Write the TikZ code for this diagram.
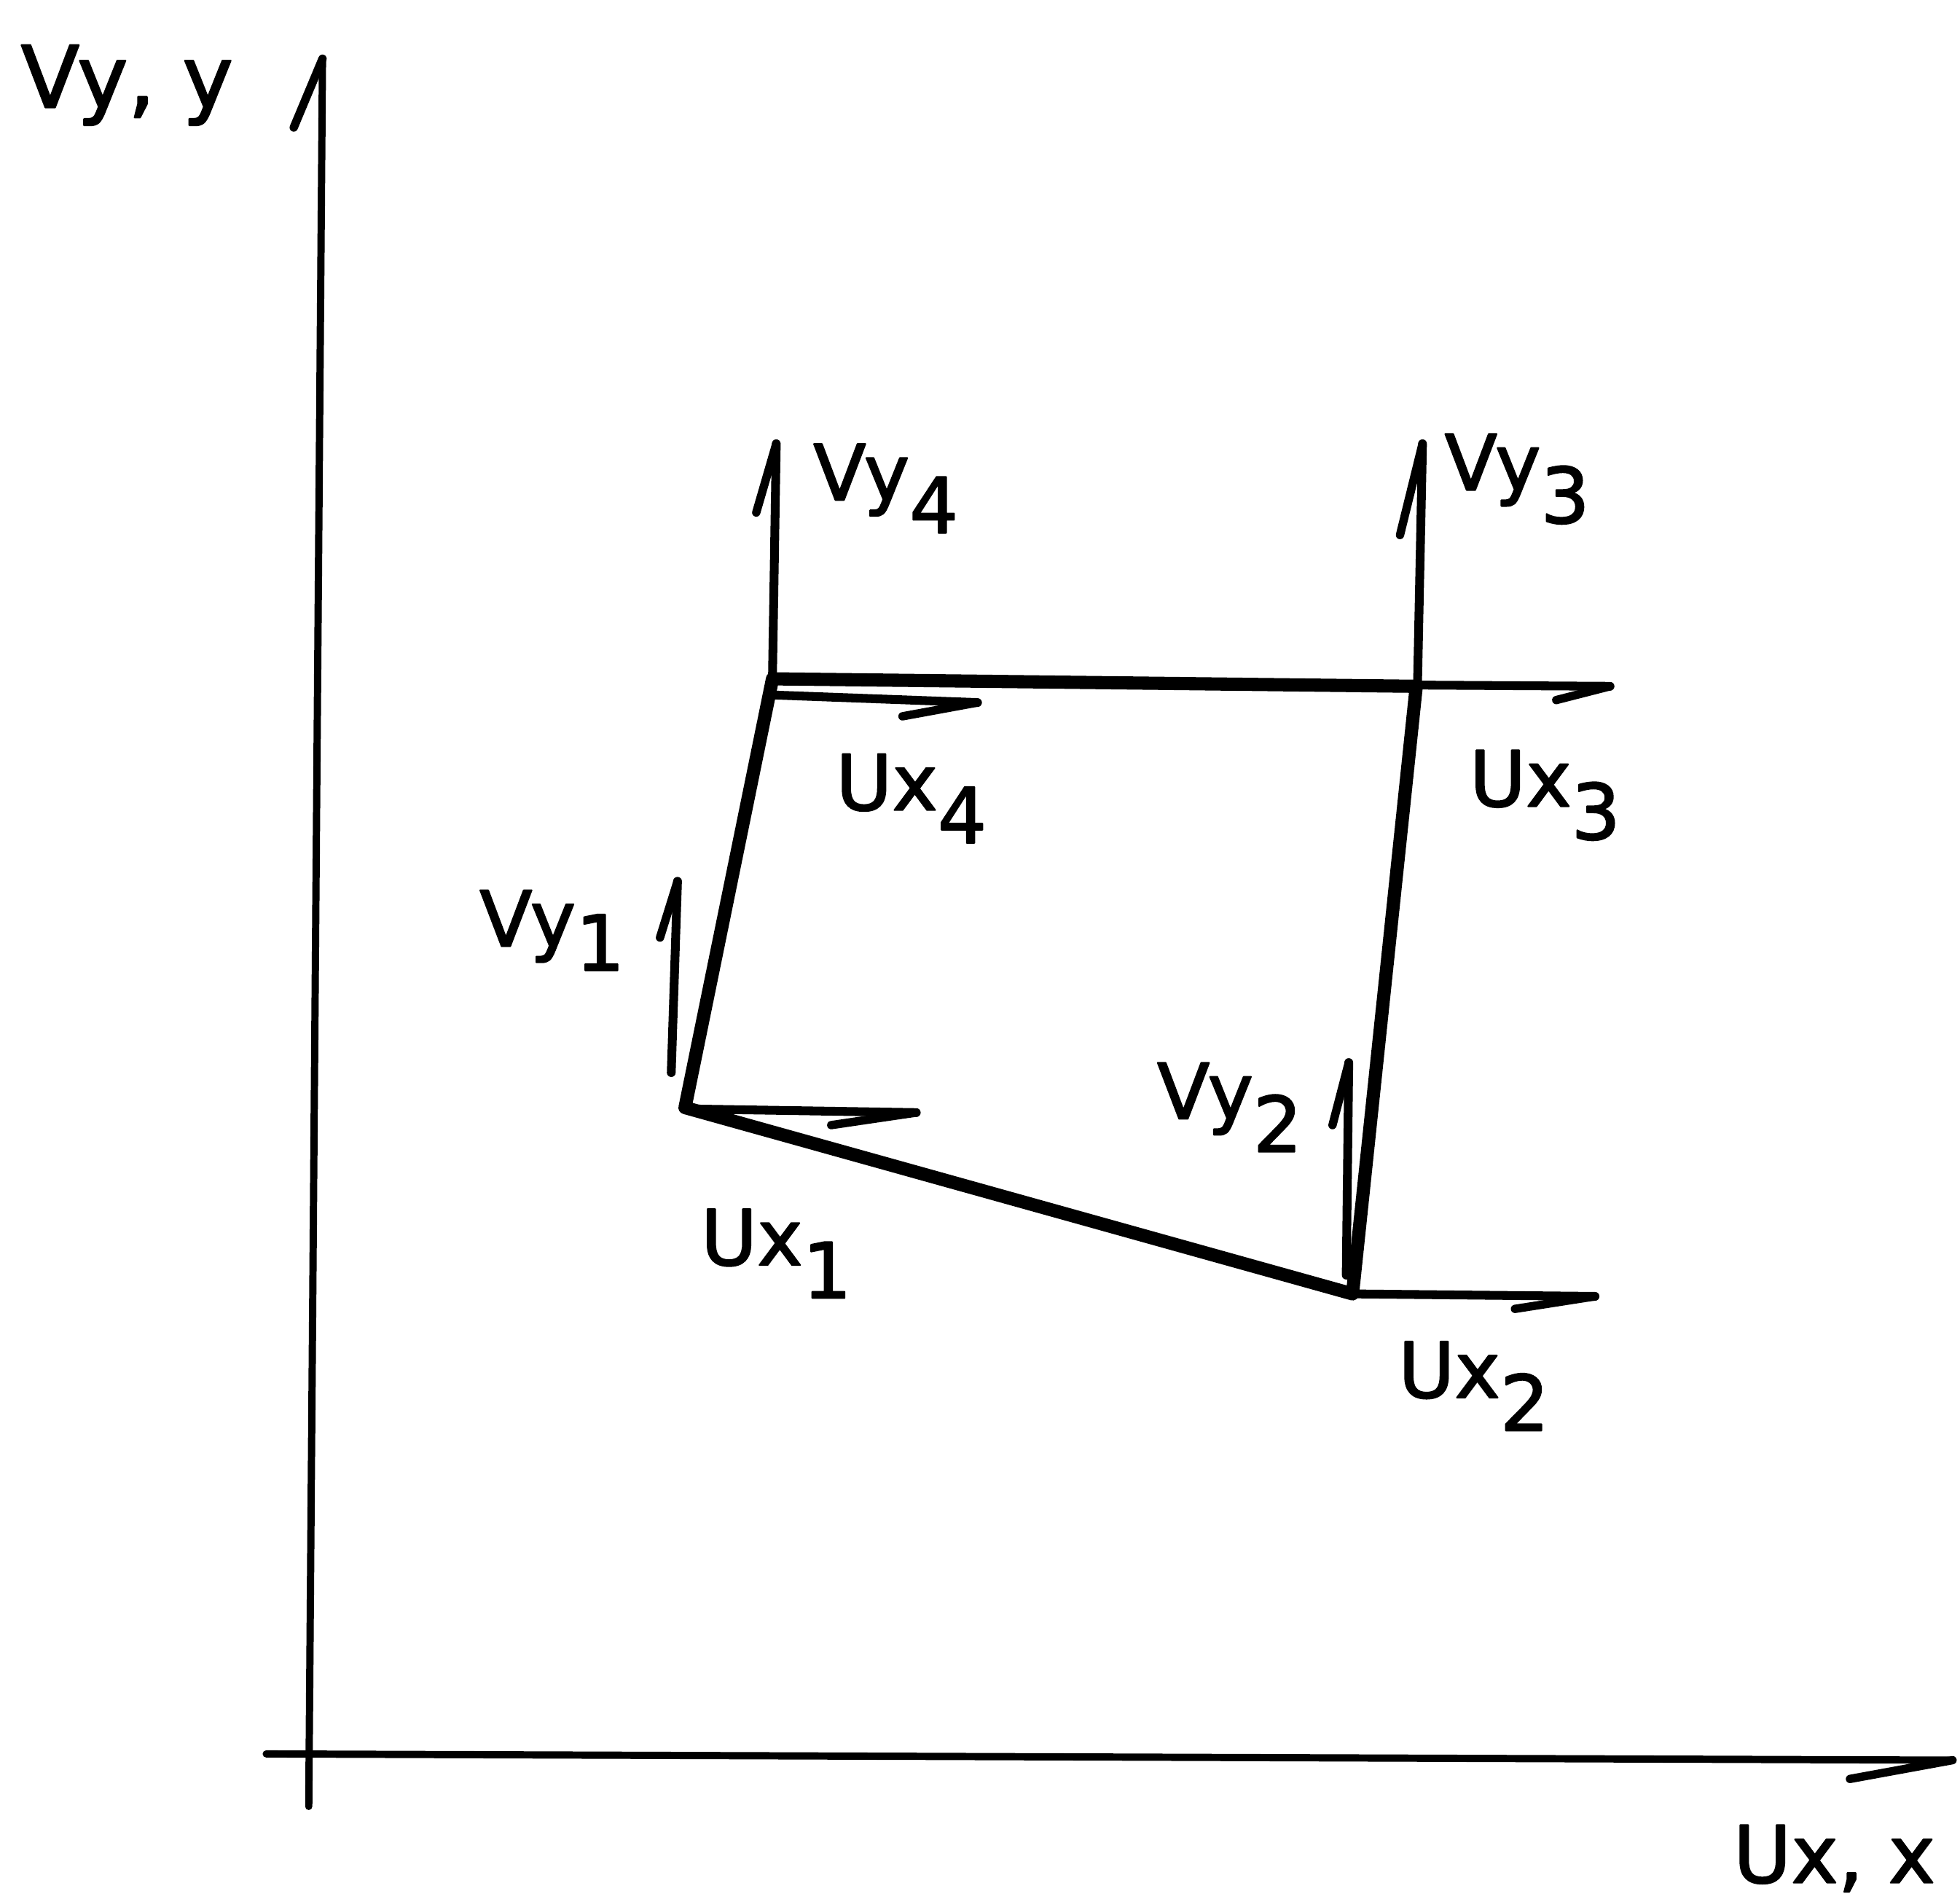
\documentclass[tikz,border=0pt]{standalone}
\usepackage{fontspec}
\setmainfont{DejaVu Sans}
\newfontfamily\lblfont[FakeBold=2]{DejaVu Sans}
\newcommand\lowsub[1]{\lower7.5pt\hbox{#1}}
\begin{document}
\begin{tikzpicture}[x=0.01cm,y=-0.01cm,line cap=round,line join=round,
  axis/.style={line width=1.65pt},
  quadedge/.style={line width=3pt},
  vec/.style={line width=2pt},
  barb/.style={line width=1.9pt},
  lbl/.style={anchor=base west,inner sep=0pt,font=\lblfont\fontsize{17.5}{20}\selectfont}]
\useasboundingbox (0,0) rectangle (1568,1519);
% axes
\coordinate (ytop) at (258,47);
\coordinate (ybot) at (247,1445);
\coordinate (ybarb) at (235,102);
\coordinate (xleft) at (213,1403);
\coordinate (xtip) at (1562,1408);
\coordinate (xbarb) at (1480,1423);
\draw[axis] (ybot) -- (ytop);
\draw[barb] (ytop) -- (ybarb);
\draw[axis] (xleft) -- (xtip);
\draw[barb] (xtip) -- (xbarb);
% quadrilateral
\coordinate (P1) at (548,886);
\coordinate (P2) at (1082,1035);
\coordinate (P3) at (1133,549);
\coordinate (P4) at (618,543);
\draw[quadedge] (P1) -- (P2) -- (P3) -- (P4) -- cycle;
% velocity vectors
\coordinate (v4a) at (618,540);  \coordinate (v4b) at (621,355);  \coordinate (v4c) at (605,410);
\coordinate (u4a) at (620,556);  \coordinate (u4b) at (782,562);  \coordinate (u4c) at (722,573);
\coordinate (v3a) at (1134,548); \coordinate (v3b) at (1138,355); \coordinate (v3c) at (1120,428);
\coordinate (u3a) at (1133,548); \coordinate (u3b) at (1288,549); \coordinate (u3c) at (1245,560);
\coordinate (v1a) at (537,858);  \coordinate (v1b) at (542,705);  \coordinate (v1c) at (528,750);
\coordinate (u1a) at (548,887);  \coordinate (u1b) at (733,890);  \coordinate (u1c) at (665,900);
\coordinate (v2a) at (1077,1020);\coordinate (v2b) at (1079,850); \coordinate (v2c) at (1066,900);
\coordinate (u2a) at (1082,1035);\coordinate (u2b) at (1276,1037);\coordinate (u2c) at (1212,1047);
\foreach \n in {v4,u4,v3,u3,v1,u1,v2,u2}{
  \draw[vec] (\n a) -- (\n b);
  \draw[barb] (\n b) -- (\n c);
}
% labels
\node[lbl,font=\lblfont\fontsize{19.5}{24}\selectfont] (Ly) at (16,86) {Vy, y};
\node[lbl,font=\lblfont\fontsize{18}{22}\selectfont] (Lx) at (1386,1506) {Ux, x};
\node[lbl] (Lv4) at (650,400) {Vy\lowsub{4}};
\node[lbl] (Lv3) at (1155,392) {Vy\lowsub{3}};
\node[lbl] (Lu4) at (668,648) {Ux\lowsub{4}};
\node[lbl] (Lu3) at (1175,645) {Ux\lowsub{3}};
\node[lbl] (Lv1) at (383,757) {Vy\lower5.5pt\hbox{1}};
\node[lbl] (Lv2) at (925,895) {Vy\lowsub{2}};
\node[lbl] (Lu1) at (560,1012) {Ux\lowsub{1}};
\node[lbl] (Lu2) at (1118,1118) {Ux\lowsub{2}};
\end{tikzpicture}
\end{document}
